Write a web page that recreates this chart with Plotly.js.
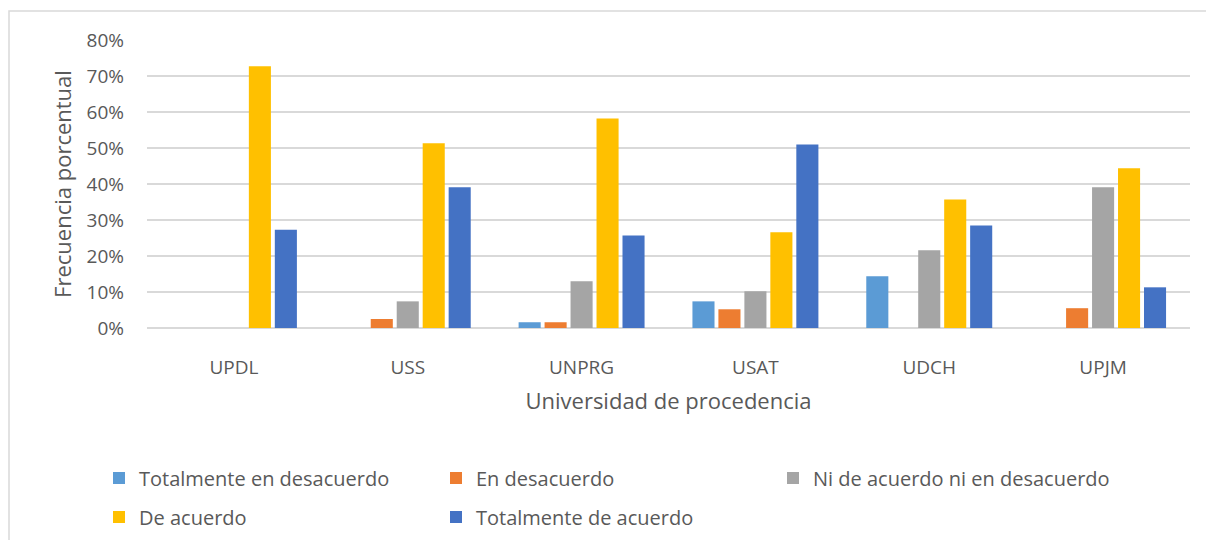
<!DOCTYPE html>
<html>
<head>
<meta charset="utf-8">
<script src="https://cdn.plot.ly/plotly-3.0.1.min.js"></script>
<style>html,body{margin:0;padding:0;background:#fff;}#chart{width:1206px;height:540px;}</style>
</head>
<body>
<div id="chart"></div>
<script>
const universidades = ['UPDL', 'USS', 'UNPRG', 'USAT', 'UDCH', 'UPJM'];
const totalmenteDesacuerdo = [0, 0, 0.016, 0.074, 0.144, 0];
const enDesacuerdo = [0, 0.025, 0.016, 0.052, 0, 0.055];
const niDeAcuerdo = [0, 0.074, 0.130, 0.102, 0.216, 0.391];
const deAcuerdo = [0.727, 0.513, 0.582, 0.266, 0.357, 0.444];
const totalmenteAcuerdo = [0.273, 0.391, 0.257, 0.510, 0.285, 0.113];
const seriesNames = ['Totalmente en desacuerdo', 'En desacuerdo', 'Ni de acuerdo ni en desacuerdo', 'De acuerdo', 'Totalmente de acuerdo'];
const yTickVals = [0, 0.1, 0.2, 0.3, 0.4, 0.5, 0.6, 0.7, 0.8];

const colors = ['#5B9BD5', '#ED7D31', '#A5A5A5', '#FFC000', '#4472C4'];
const values = [totalmenteDesacuerdo, enDesacuerdo, niDeAcuerdo, deAcuerdo, totalmenteAcuerdo];
const legendOf = ['legend', 'legend', 'legend', 'legend2', 'legend2'];
const FONT = 'Open Sans, sans-serif';
const TXT = '#595959';

const data = values.map((v, i) => ({
  type: 'bar',
  name: seriesNames[i],
  x: universidades,
  y: v,
  marker: {color: colors[i]},
  legend: legendOf[i],
  hoverinfo: 'x+y+name'
}));

const L = 147, R = 16, T = 40, B = 212;
const W = 1206, H = 540;
const pw = W - L - R, ph = H - T - B;
const px = x => (x - L) / pw;
const py = y => (H - B - y) / ph;

const legendCommon = {
  orientation: 'h',
  xanchor: 'left',
  yanchor: 'middle',
  font: {family: FONT, size: 20, color: TXT},
  entrywidth: 292,
  entrywidthmode: 'pixels',
  bgcolor: 'rgba(0,0,0,0)',
  itemclick: false,
  itemdoubleclick: false,
  traceorder: 'normal'
};

const layout = {
  width: W, height: H,
  margin: {l: L, r: R, t: T, b: B, pad: 0, autoexpand: false},
  paper_bgcolor: '#fff',
  plot_bgcolor: '#fff',
  font: {family: FONT, color: TXT},
  barmode: 'group',
  bargap: 0.253,
  bargroupgap: 0.15,
  xaxis: {
    type: 'category',
    automargin: false,
    showgrid: false,
    zeroline: false,
    showline: false,
    ticks: '',
    ticklabelstandoff: 26,
    tickfont: {family: FONT, size: 19, color: TXT},
    title: {text: 'Universidad de procedencia', font: {family: FONT, size: 22, color: TXT}, standoff: 14}
  },
  yaxis: {
    range: [0, 0.8],
    automargin: false,
    tickvals: yTickVals,
    tickformat: '.0%',
    showgrid: true,
    gridcolor: '#D9D9D9',
    gridwidth: 1.5,
    zeroline: true,
    zerolinecolor: '#D9D9D9',
    zerolinewidth: 1.5,
    showline: false,
    ticks: '',
    ticklabelstandoff: 22,
    tickfont: {family: FONT, size: 19, color: TXT},
    title: {text: 'Frecuencia porcentual', font: {family: FONT, size: 22, color: TXT}, standoff: 8}
  },
  legend: Object.assign({}, legendCommon, {x: px(99), y: py(478)}),
  legend2: Object.assign({}, legendCommon, {x: px(99), y: py(517)}),
  shapes: [{
    type: 'rect', xref: 'paper', yref: 'paper', layer: 'below',
    x0: px(9), x1: px(1215), y0: py(550), y1: py(11),
    line: {color: '#D9D9D9', width: 1.5},
    fillcolor: 'rgba(0,0,0,0)'
  }],
  showlegend: true
};

Plotly.newPlot('chart', data, layout, {displayModeBar: false, responsive: false});
</script>
</body>
</html>
